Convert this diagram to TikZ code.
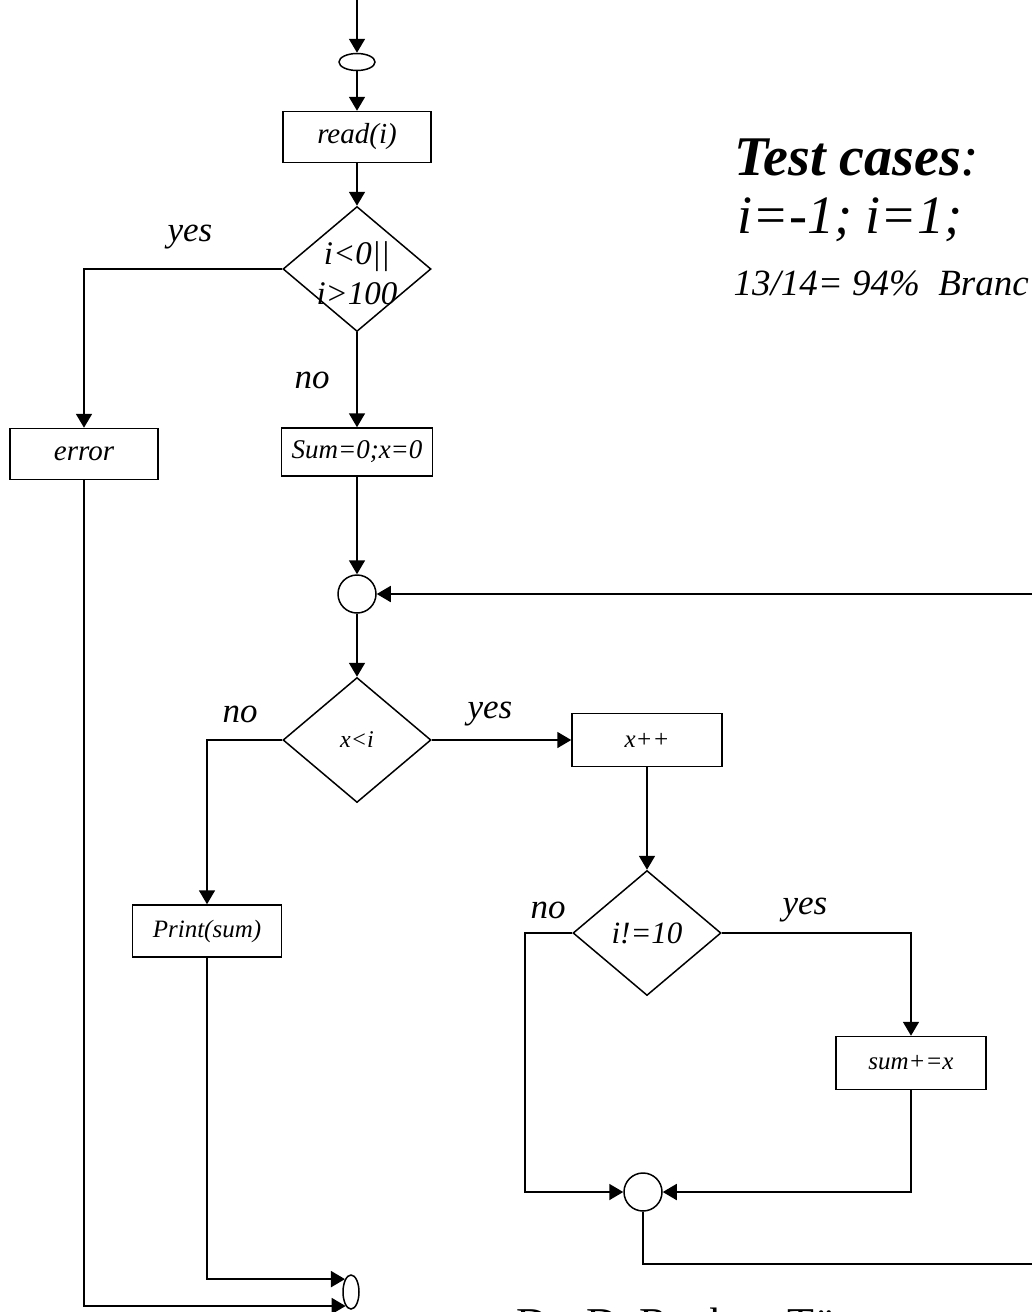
\documentclass[tikz,border=0pt]{standalone}
\usepackage{fontspec}
\setmainfont{Liberation Serif}
\usetikzlibrary{shapes.geometric, arrows.meta, positioning}

\begin{document}
\begin{tikzpicture}[
    x=1pt, y=-1pt,
    box/.style={rectangle, draw, line width=1.5pt, minimum width=148pt, minimum height=51pt, inner sep=0pt},
    decision/.style={diamond, draw, line width=1.5pt, minimum width=148pt, minimum height=125pt, inner sep=0pt},
    joint/.style={circle, draw, line width=1.5pt, minimum size=38pt, inner sep=0pt},
    terminal/.style={ellipse, draw, line width=1.5pt, inner sep=0pt},
    bigtext/.style={font=\fontsize{29}{40}\selectfont\itshape, align=center},
    smalltext/.style={font=\fontsize{25}{28}\selectfont\itshape},
    branch/.style={font=\fontsize{35}{38}\selectfont\itshape},
    flow/.style={line width=1.8pt, -{Triangle[length=14pt, width=16pt]}}
]
\useasboundingbox (0,0) rectangle (1032,1312);
\clip (0,0) rectangle (1032,1312);

% Main column
\coordinate (entry) at (357,-10);
\node[terminal, minimum width=36pt, minimum height=17pt] (start) at (357,62) {};
\node[box, bigtext] (read) at (357,137) {read(i)};
\node[decision, label={[bigtext, font=\fontsize{33}{40}\selectfont\itshape, yshift=-4pt]center:{i<0||\\i>100}}] (range) at (357,269) {};
\node[box, bigtext] (error) at (84,454) {error};
\node[box, minimum width=151pt, minimum height=48pt, font=\fontsize{27}{30}\selectfont\itshape] (init) at (357,452) {Sum=0;x=0};
\node[joint] (loop) at (357,594) {};

% Loop condition
\node[decision, label={[smalltext, font=\fontsize{24}{28}\selectfont\itshape]center:x<i}] (cond) at (357,740) {};
\node[box, smalltext, minimum width=150pt, minimum height=53pt] (inc) at (647,740) {x++};
\node[box, smalltext, minimum width=149pt, minimum height=52pt] (print) at (207,931) {Print(sum)};

% Inner check
\node[decision, label={[bigtext, font=\fontsize{31}{34}\selectfont\itshape]center:i!=10}] (check) at (647,933) {};
\node[box, smalltext, minimum width=150pt, minimum height=53pt] (add) at (911,1063) {sum+=x};
\node[joint] (merge) at (643,1192) {};
\coordinate (back) at (1100,1264);

% End
\node[terminal, minimum width=16pt, minimum height=34pt] (stop) at (351,1292) {};

% Branch labels
\node[branch] (yesrange) at (190,237) {yes};
\node[branch] (norange) at (312,380) {no};
\node[branch] (nocond) at (240,714) {no};
\node[branch] (yescond) at (490,714) {yes};
\node[branch] (nocheck) at (548,910) {no};
\node[branch] (yescheck) at (805,910) {yes};

% Notes
\node[font=\fontsize{56}{60}\selectfont] (cases) at (857,158) {\textbf{\textit{Test cases}}\textit{:}};
\node[font=\fontsize{54}{58}\selectfont\itshape] (inputs) at (850,220) {i=-1; i=1;};
\node[anchor=west, font=\fontsize{37}{40}\selectfont\itshape] (ratio) at (730,283) {13/14= 94\%\ \ Branc};
\node[anchor=base west, font=\fontsize{44}{48}\selectfont] (credit) at (513,1338) {Dr. D. Rauber, Tö};

% Connections
\draw[flow] (entry) -- (start);
\draw[flow] (start) -- (read);
\draw[flow] (read) -- (range);
\draw[flow] (range.west) -| (error.north);
\draw[flow] (range) -- (init);
\draw[flow] (init) -- (loop);
\draw[flow] (loop) -- (cond);
\draw[flow] (cond.west) -| (print.north);
\draw[flow] (cond.east) -- (inc.west);
\draw[flow] (inc) -- (check);
\draw[flow] (check.west) -- ++(-47,0) |- (merge.west);
\draw[flow] (check.east) -| (add.north);
\draw[flow] (add.south) |- (merge.east);
\draw[flow] (merge.south) |- (back) |- (loop.east);
\draw[flow] (print.south) |- (stop.115);
\draw[flow] (error.south) |- (stop.249);

\end{tikzpicture}
\end{document}
